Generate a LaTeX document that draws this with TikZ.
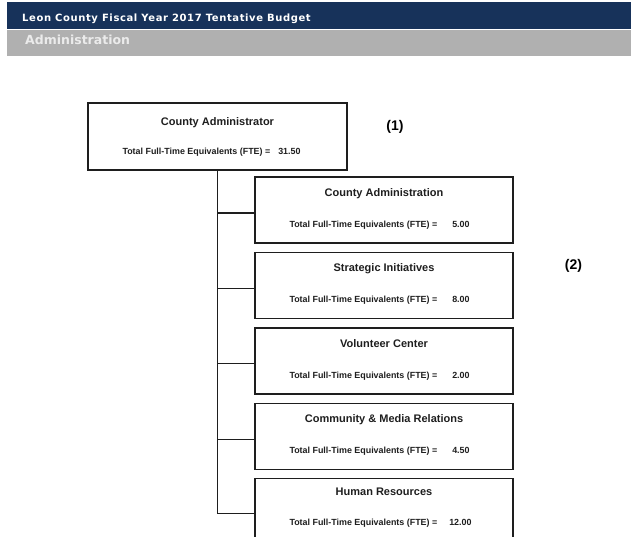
\documentclass[tikz,border=0pt]{standalone}
\usepackage{fontspec}
\setmainfont{Liberation Sans}
\newfontfamily\headfont{DejaVu Sans}
\usetikzlibrary{positioning}
\definecolor{navy}{HTML}{17325A}
\definecolor{bandgray}{HTML}{B0B0B0}
\definecolor{ink}{HTML}{1E1E1E}

\tikzset{
  unitbox/.style={draw=ink,line width=1.4pt,minimum width=258pt,minimum height=66pt,inner sep=0pt},
  unittitle/.style={anchor=base,inner sep=0pt,text=ink,font=\fontsize{11}{13}\selectfont\bfseries},
  unitfte/.style={anchor=base west,inner sep=0pt,text=ink,font=\fontsize{8.9}{10}\selectfont\bfseries},
  link/.style={draw=ink,line width=1.3pt}
}

\begin{document}
\begin{tikzpicture}[x=1pt,y=-1pt]
\useasboundingbox (0,0) rectangle (631,537);
\clip (0,0) rectangle (631,537);
% header bands
\fill[navy] (7,2) rectangle (631,29);
\fill[bandgray] (7,30) rectangle (631,56);
\node[anchor=base west,inner sep=0pt,text=white,font=\headfont\fontsize{10}{11}\selectfont\bfseries\addfontfeature{LetterSpace=6}] (hd) at (22,21.5) {Leon County Fiscal Year 2017 Tentative Budget};
\node[anchor=base west,inner sep=0pt,text=white!92!black,font=\headfont\fontsize{12.5}{14}\selectfont\bfseries] (sec) at (25,45) {Administration};
% county administrator
\node[unitbox,minimum width=259pt,minimum height=67pt] (adm) at (217.5,136.5) {};
\node[unittitle] (adm-t) at ([shift={(0,23)}]adm.north) {County Administrator};
\node[unitfte] (adm-f) at ([shift={(35,52)}]adm.north west) {Total Full-Time Equivalents (FTE) =\hspace{8pt}31.50};
\node[inner sep=0pt,font=\fontsize{14}{16}\selectfont\bfseries] (n1) at (395,127) {(1)};
% divisions
\node[unitbox] (ca) at (384,210) {};
\node[unitbox,below=8pt of ca] (si) {};
\node[unitbox,below=8pt of si] (vc) {};
\node[unitbox,below=8pt of vc] (cm) {};
\node[unitbox,below=8pt of cm] (hr) {};
\node[inner sep=0pt,font=\fontsize{14}{16}\selectfont\bfseries] (n2) at (573.5,266) {(2)};
\node[unittitle] (ca-t) at ([shift={(0,20)}]ca.north) {County Administration};
\node[unitfte] (ca-f) at ([shift={(35,51)}]ca.north west) {Total Full-Time Equivalents (FTE) =\hspace{15pt}5.00};
\node[unittitle] (si-t) at ([shift={(0,20)}]si.north) {Strategic Initiatives};
\node[unitfte] (si-f) at ([shift={(35,51)}]si.north west) {Total Full-Time Equivalents (FTE) =\hspace{15pt}8.00};
\node[unittitle] (vc-t) at ([shift={(0,20)}]vc.north) {Volunteer Center};
\node[unitfte] (vc-f) at ([shift={(35,51)}]vc.north west) {Total Full-Time Equivalents (FTE) =\hspace{15pt}2.00};
\node[unittitle] (cm-t) at ([shift={(0,20)}]cm.north) {Community \& Media Relations};
\node[unitfte] (cm-f) at ([shift={(35,51)}]cm.north west) {Total Full-Time Equivalents (FTE) =\hspace{15pt}4.50};
\node[unittitle] (hr-t) at ([shift={(0,18)}]hr.north) {Human Resources};
\node[unitfte] (hr-f) at ([shift={(35,48)}]hr.north west) {Total Full-Time Equivalents (FTE) =\hspace{12pt}12.00};
% tree lines
\draw[link] (adm.south) |- ([yshift=-2pt]hr.west);
\draw[link] (adm.south |- ca.west) ++(0,3) -- ([yshift=-3pt]ca.west);
\draw[link] (adm.south |- si.west) ++(0,3) -- ([yshift=-3pt]si.west);
\draw[link] (adm.south |- vc.west) ++(0,3) -- ([yshift=-3pt]vc.west);
\draw[link] (adm.south |- cm.west) ++(0,3) -- ([yshift=-3pt]cm.west);
\end{tikzpicture}
\end{document}
